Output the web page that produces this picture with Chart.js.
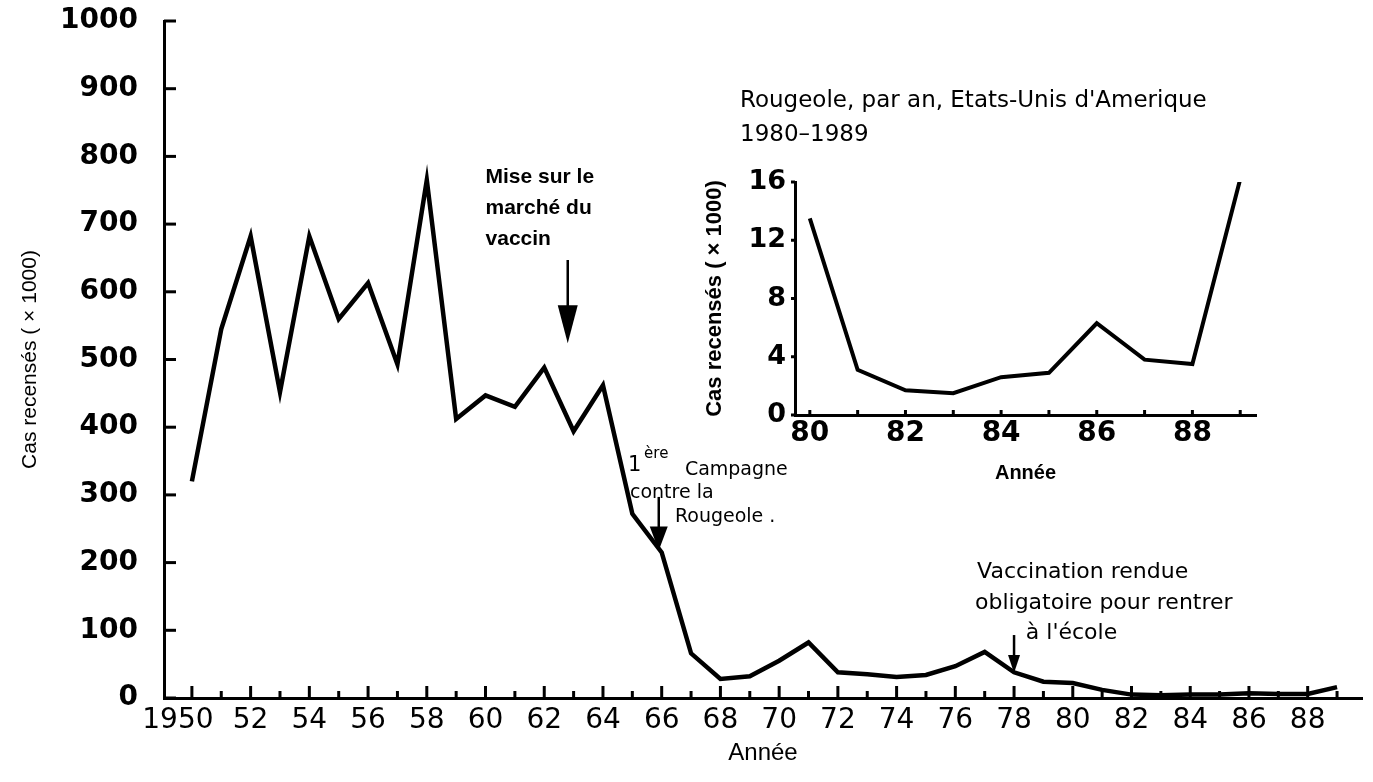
<!DOCTYPE html>
<html>
<head>
<meta charset="utf-8">
<script src="https://cdn.jsdelivr.net/npm/chart.js@4"></script>
<style>
  html, body { margin: 0; padding: 0; background: #fff; }
  #wrap { position: relative; width: 1373px; height: 782px; }
  #main { position: absolute; left: 0; top: 0; }
  #inset { position: absolute; left: 690px; top: 60px; }
</style>
</head>
<body>
<div id="wrap">
  <canvas id="main" width="1373" height="782"></canvas>
  <canvas id="inset" width="600" height="430"></canvas>
</div>
<script>
// main chart: cases per year (x 1000), 1950-1989
const years = [1950, 1951, 1952, 1953, 1954, 1955, 1956, 1957, 1958, 1959,
               1960, 1961, 1962, 1963, 1964, 1965, 1966, 1967, 1968, 1969,
               1970, 1971, 1972, 1973, 1974, 1975, 1976, 1977, 1978, 1979,
               1980, 1981, 1982, 1983, 1984, 1985, 1986, 1987, 1988, 1989];
const cases = [320, 545, 682, 452, 682, 560, 613, 493, 765, 412,
               447, 430, 488, 394, 462, 272, 215, 66, 28, 32,
               55, 82, 38, 35, 31, 34, 47, 68, 38, 24,
               22, 12, 5, 4, 5, 5, 7, 6, 6, 16];
const yTicks = [0, 100, 200, 300, 400, 500, 600, 700, 800, 900, 1000];

// inset: 1980-1989
const insetYears = [1980, 1981, 1982, 1983, 1984, 1985, 1986, 1987, 1988, 1989];
const insetCases = [13.5, 3.1, 1.7, 1.5, 2.6, 2.9, 6.3, 3.8, 3.5, 16.2];
const insetYTicks = [0, 4, 8, 12, 16];

const yTitle = 'Cas recensés ( × 1000)';
const xTitle = 'Année';
const insetTitle = ["Rougeole, par an, Etats-Unis d'Amerique", '1980–1989'];

// annotations, placed in data units
const notes = [
  { text: 'Mise sur le', year: 1960.0, value: 770, font: 'bold 21px "Liberation Sans"' },
  { text: 'marché du', year: 1960.0, value: 724, font: 'bold 21px "Liberation Sans"' },
  { text: 'vaccin', year: 1960.0, value: 677, font: 'bold 21px "Liberation Sans"' },
  { text: '1', year: 1964.85, value: 343, font: '21px "DejaVu Sans"' },
  { text: 'ère', year: 1965.4, value: 360, font: '15px "DejaVu Sans"' },
  { text: 'Campagne', year: 1966.79, value: 337, font: '19px "DejaVu Sans"' },
  { text: 'contre la', year: 1964.92, value: 303, font: '19px "DejaVu Sans"' },
  { text: 'Rougeole .', year: 1966.45, value: 267, font: '19px "DejaVu Sans"' },
  { text: 'Vaccination rendue', year: 1976.74, value: 186, font: '22px "DejaVu Sans"' },
  { text: 'obligatoire pour rentrer', year: 1976.67, value: 140, font: '22px "DejaVu Sans"' },
  { text: "à l'école", year: 1978.4, value: 95, font: '22px "DejaVu Sans"' }
];
const arrows = [
  { year: 1962.8, from: 647, to: 524, head: 38, width: 20 },
  { year: 1965.9, from: 297, to: 218, head: 24, width: 18 },
  { year: 1978.0, from: 93, to: 37, head: 18, width: 12 }
];

function drawArrow(ctx, x, y1, y2, head, width) {
  ctx.beginPath();
  ctx.moveTo(x, y1);
  ctx.lineTo(x, y2 - head + 2);
  ctx.stroke();
  ctx.beginPath();
  ctx.moveTo(x - width / 2, y2 - head);
  ctx.lineTo(x + width / 2, y2 - head);
  ctx.lineTo(x, y2);
  ctx.closePath();
  ctx.fill();
}

function tickPlugin(id, xMajor, xMinor, yLen, yInside) {
  return {
    id: id,
    afterDraw(chart) {
      const { ctx, scales: { x, y } } = chart;
      ctx.save();
      ctx.strokeStyle = '#000';
      ctx.lineWidth = 3;
      x.ticks.forEach(t => {
        const px = x.getPixelForValue(t.value);
        const len = t.value % 2 === 0 ? xMajor : xMinor;
        ctx.beginPath();
        ctx.moveTo(px, x.top);
        ctx.lineTo(px, x.top - len);
        ctx.stroke();
      });
      y.ticks.forEach(t => {
        const py = y.getPixelForValue(t.value);
        ctx.beginPath();
        ctx.moveTo(y.right, py);
        ctx.lineTo(y.right + (yInside ? yLen : -yLen), py);
        ctx.stroke();
      });
      ctx.restore();
    }
  };
}

const notesPlugin = {
  id: 'notes',
  afterDraw(chart) {
    const { ctx, scales: { x, y } } = chart;
    ctx.save();
    ctx.fillStyle = '#000';
    ctx.strokeStyle = '#000';
    ctx.textBaseline = 'middle';
    ctx.textAlign = 'left';
    notes.forEach(n => {
      ctx.font = n.font;
      ctx.fillText(n.text, x.getPixelForValue(n.year), y.getPixelForValue(n.value));
    });
    ctx.lineWidth = 2.5;
    arrows.forEach(a => {
      drawArrow(ctx, x.getPixelForValue(a.year), y.getPixelForValue(a.from),
                y.getPixelForValue(a.to), a.head, a.width);
    });
    ctx.restore();
  }
};

new Chart(document.getElementById('main'), {
  type: 'line',
  data: {
    datasets: [{
      data: years.map((yr, i) => ({ x: yr, y: cases[i] })),
      borderColor: '#000',
      borderWidth: 4.5,
      borderJoinStyle: 'miter',
      pointRadius: 0,
      tension: 0,
      fill: false
    }]
  },
  options: {
    responsive: false,
    animation: false,
    layout: { padding: { left: 0, top: 21, right: 11, bottom: 0 } },
    plugins: { legend: { display: false }, tooltip: { enabled: false } },
    scales: {
      x: {
        type: 'linear',
        min: 1949.05,
        max: 1989.85,
        afterBuildTicks: s => { s.ticks = years.map(v => ({ value: v })); },
        afterFit: s => { s.height = 84; },
        grid: { display: false, drawTicks: false },
        border: { display: true, color: '#000', width: 3 },
        ticks: {
          autoSkip: false,
          maxRotation: 0,
          padding: 6,
          color: '#000',
          font: { family: 'DejaVu Sans', size: 28 },
          callback: v => v === 1950 ? '1950\u2003' : (v % 2 === 0 ? String(v).slice(2) : '')
        },
        title: {
          display: true,
          text: xTitle,
          color: '#000',
          font: { family: 'Liberation Sans', size: 24 },
          padding: { top: 0, bottom: 14 }
        }
      },
      y: {
        min: 0,
        max: 1000,
        afterBuildTicks: s => { s.ticks = yTicks.map(v => ({ value: v })); },
        afterFit: s => { s.width = 164; },
        grid: { display: false, drawTicks: true, tickLength: 22 },
        border: { display: true, color: '#000', width: 3 },
        ticks: {
          padding: 4,
          color: '#000',
          font: { family: 'DejaVu Sans', size: 28, weight: 'bold' },
          callback: v => String(v)
        },
        title: {
          display: true,
          text: yTitle,
          color: '#000',
          font: { family: 'Liberation Sans', size: 21 },
          padding: { top: 18, bottom: 0 }
        }
      }
    }
  },
  plugins: [tickPlugin('mainTicks', 12, 7, 12, true), notesPlugin]
});

const insetTitlePlugin = {
  id: 'insetTitle',
  afterDraw(chart) {
    const ctx = chart.ctx;
    ctx.save();
    ctx.fillStyle = '#000';
    ctx.font = '23px "DejaVu Sans"';
    ctx.textBaseline = 'middle';
    ctx.fillText(insetTitle[0], 50, 41);
    ctx.fillText(insetTitle[1], 50, 75);
    ctx.restore();
  }
};

new Chart(document.getElementById('inset'), {
  type: 'line',
  data: {
    datasets: [{
      data: insetYears.map((yr, i) => ({ x: yr, y: insetCases[i] })),
      borderColor: '#000',
      borderWidth: 4,
      borderJoinStyle: 'miter',
      pointRadius: 0,
      tension: 0,
      fill: false
    }]
  },
  options: {
    responsive: false,
    animation: false,
    layout: { padding: { left: 0, top: 122, right: 34, bottom: 0 } },
    plugins: { legend: { display: false }, tooltip: { enabled: false } },
    scales: {
      x: {
        type: 'linear',
        min: 1979.69,
        max: 1989.33,
        afterBuildTicks: s => { s.ticks = insetYears.map(v => ({ value: v })); },
        afterFit: s => { s.height = 75; },
        grid: { display: false, drawTicks: false },
        border: { display: true, color: '#000', width: 3 },
        ticks: {
          autoSkip: false,
          maxRotation: 0,
          padding: 2,
          color: '#000',
          font: { family: 'DejaVu Sans', size: 28, weight: 'bold' },
          callback: v => v % 2 === 0 ? String(v).slice(2) : ''
        },
        title: {
          display: true,
          text: xTitle,
          color: '#000',
          font: { family: 'Liberation Sans', size: 20, weight: 'bold' },
          padding: { top: 0, bottom: 5 }
        }
      },
      y: {
        min: 0,
        max: 16,
        afterBuildTicks: s => { s.ticks = insetYTicks.map(v => ({ value: v })); },
        afterFit: s => { s.width = 105; },
        grid: { display: false, drawTicks: false },
        border: { display: true, color: '#000', width: 3 },
        ticks: {
          padding: 9,
          color: '#000',
          font: { family: 'DejaVu Sans', size: 27, weight: 'bold' }
        },
        title: {
          display: true,
          text: yTitle,
          color: '#000',
          font: { family: 'Liberation Sans', size: 22, weight: 'bold' },
          padding: { top: 12, bottom: 0 }
        }
      }
    }
  },
  plugins: [tickPlugin('insetTicks', 5, 5, 4, false), insetTitlePlugin]
});
</script>
</body>
</html>
